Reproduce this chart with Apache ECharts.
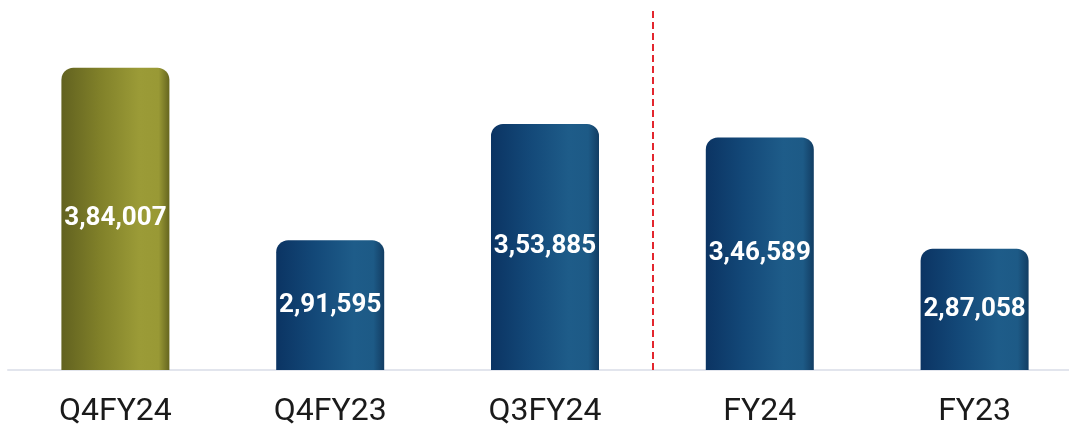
<!DOCTYPE html>
<html>
<head>
<meta charset="utf-8">
<script src="https://cdn.jsdelivr.net/npm/echarts@6/dist/echarts.min.js"></script>
<style>
    html, body { margin: 0; padding: 0; background: #fff; }
    #chart { width: 1069px; height: 433px; }
</style>
</head>
<body>
<div id="chart"></div>
<script>
    // chart data
    var categories = ['Q4FY24', 'Q4FY23', 'Q3FY24', 'FY24', 'FY23'];
    var values = [384007, 291595, 353885, 346589, 287058];
    var highlightIndex = 0; // olive bar
    var dividerAfter = 3;   // dashed line after the 3rd category

    function grad(stops) {
        return new echarts.graphic.LinearGradient(0, 0, 1, 0, stops.map(function (c) {
            return { offset: c[0], color: c[1] };
        }));
    }

    var blue = grad([[0, '#0b3463'], [0.35, '#134878'], [0.72, '#1e5c89'], [0.9, '#1d5a86'], [1, '#123d63']]);
    var olive = grad([[0, '#626220'], [0.35, '#808029'], [0.72, '#9b9b37'], [0.9, '#999935'], [1, '#66661f']]);

    // Indian digit grouping, e.g. 3,84,007
    function inFmt(n) {
        var s = String(n);
        var last3 = s.slice(-3);
        var rest = s.slice(0, -3);
        if (rest) {
            rest = rest.replace(/\B(?=(\d{2})+(?!\d))/g, ',');
            return rest + ',' + last3;
        }
        return last3;
    }

    var chart = echarts.init(document.getElementById('chart'));
    var option = {
        animation: false,
        grid: { left: 8, top: 10, right: -13, bottom: 63, containLabel: false, outerBoundsMode: 'none' },
        xAxis: [{
            type: 'category',
            data: categories,
            axisLine: { lineStyle: { color: '#e2e5ed', width: 2 } },
            axisTick: { show: false },
            axisLabel: {
                color: '#1a1a1a',
                fontFamily: 'Roboto',
                fontSize: 32,
                margin: 26
            }
        }, {
            // helper axis for placing the divider between categories
            type: 'value',
            min: 0,
            max: categories.length,
            show: false
        }],
        yAxis: {
            type: 'value',
            min: 222000,
            max: 415000,
            show: false,
            splitLine: { show: false }
        },
        series: [{
            type: 'bar',
            barWidth: 108,
            data: values.map(function (v, i) {
                return {
                    value: v,
                    itemStyle: { color: i === highlightIndex ? olive : blue }
                };
            }),
            itemStyle: { borderRadius: [12, 12, 0, 0] },
            label: {
                show: true,
                position: 'inside',
                color: '#fff',
                fontFamily: 'Roboto',
                fontWeight: 'bold',
                fontSize: 26,
                formatter: function (p) { return inFmt(p.value); }
            }
        }, {
            type: 'line',
            xAxisIndex: 1,
            data: [],
            markLine: {
                silent: true,
                symbol: 'none',
                label: { show: false },
                lineStyle: { color: '#e3262e', type: [7, 4], width: 2 },
                data: [{ xAxis: dividerAfter }]
            }
        }]
    };
    chart.setOption(option);
</script>
</body>
</html>
